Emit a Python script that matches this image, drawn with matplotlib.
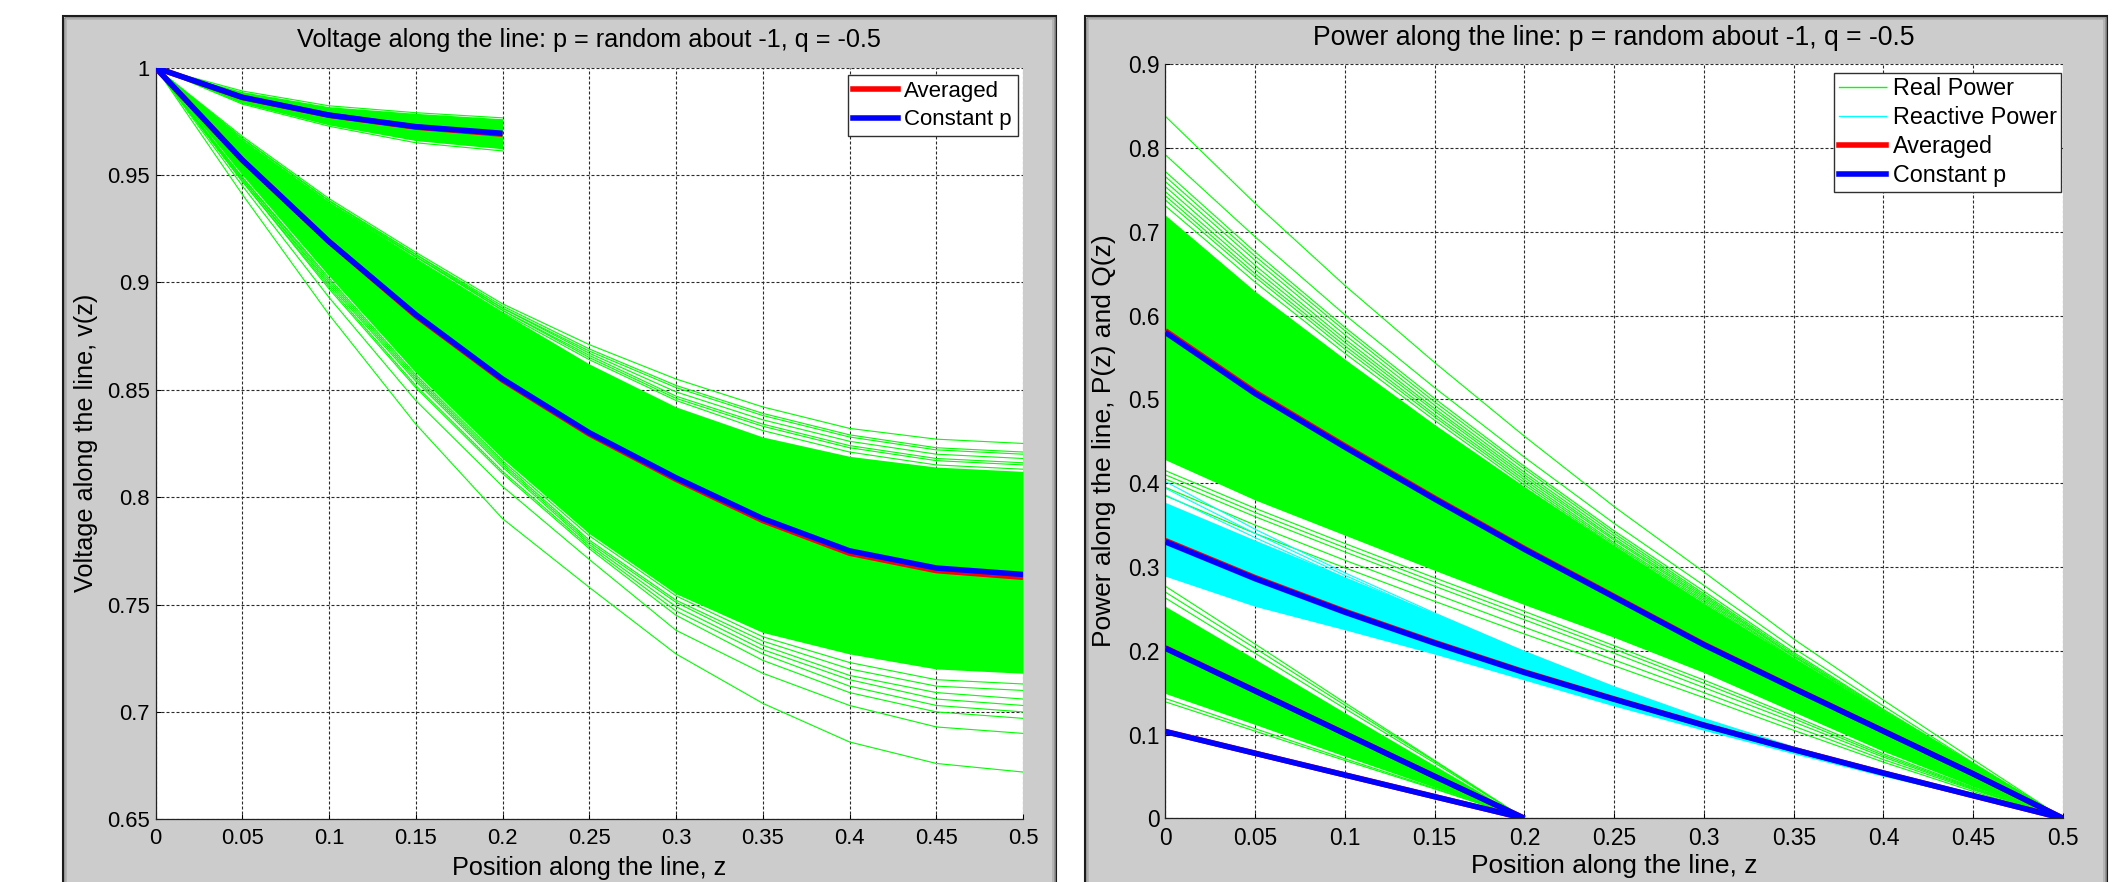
import matplotlib
matplotlib.use('Agg')
import matplotlib.pyplot as plt
from matplotlib.patches import Rectangle
from matplotlib.lines import Line2D

plt.rcParams['font.family'] = ['Liberation Sans', 'DejaVu Sans']

# positions along the line
z_long = [0.0, 0.05, 0.1, 0.15, 0.2, 0.25, 0.3, 0.35, 0.4, 0.45, 0.5]
z_short = [0.0, 0.05, 0.1, 0.15, 0.2]

# ---- voltage, long line (z = 0 .. 0.5)
v_const_long = [1.000, 0.957, 0.919, 0.885, 0.855, 0.830, 0.809, 0.790, 0.775, 0.767, 0.764]
v_avg_long = [1.000, 0.957, 0.919, 0.8845, 0.8545, 0.8294, 0.8083, 0.7891, 0.7739, 0.7658, 0.7627]
v_band_long_hi = [1.000, 0.966, 0.937, 0.911, 0.886, 0.862, 0.842, 0.828, 0.819, 0.814, 0.812]
v_band_long_lo = [1.000, 0.950, 0.903, 0.858, 0.818, 0.783, 0.755, 0.737, 0.727, 0.720, 0.718]
v_runs_long = [
    [1.000, 0.968, 0.939, 0.914, 0.890, 0.871, 0.855, 0.842, 0.832, 0.827, 0.825],
    [1.000, 0.967, 0.938, 0.913, 0.889, 0.869, 0.852, 0.839, 0.829, 0.823, 0.821],
    [1.000, 0.967, 0.938, 0.913, 0.888, 0.868, 0.851, 0.838, 0.828, 0.822, 0.820],
    [1.000, 0.967, 0.938, 0.912, 0.888, 0.867, 0.849, 0.836, 0.826, 0.820, 0.818],
    [1.000, 0.966, 0.937, 0.912, 0.887, 0.866, 0.847, 0.834, 0.824, 0.818, 0.816],
    [1.000, 0.966, 0.937, 0.912, 0.887, 0.865, 0.846, 0.833, 0.823, 0.817, 0.815],
    [1.000, 0.966, 0.937, 0.911, 0.886, 0.864, 0.845, 0.831, 0.821, 0.815, 0.813],
    [1.000, 0.941, 0.885, 0.834, 0.790, 0.758, 0.727, 0.704, 0.686, 0.676, 0.672],
    [1.000, 0.945, 0.893, 0.845, 0.805, 0.771, 0.738, 0.718, 0.703, 0.693, 0.690],
    [1.000, 0.947, 0.897, 0.851, 0.811, 0.776, 0.745, 0.724, 0.709, 0.700, 0.697],
    [1.000, 0.947, 0.898, 0.852, 0.812, 0.777, 0.747, 0.727, 0.712, 0.703, 0.700],
    [1.000, 0.948, 0.899, 0.854, 0.814, 0.778, 0.749, 0.729, 0.715, 0.706, 0.703],
    [1.000, 0.948, 0.900, 0.855, 0.815, 0.779, 0.751, 0.731, 0.717, 0.709, 0.706],
    [1.000, 0.949, 0.901, 0.856, 0.816, 0.780, 0.752, 0.733, 0.720, 0.712, 0.710],
    [1.000, 0.949, 0.902, 0.857, 0.817, 0.782, 0.754, 0.735, 0.723, 0.715, 0.713],
]

# ---- voltage, short line (z = 0 .. 0.2)
v_const_short = [1.000, 0.9862, 0.9779, 0.9725, 0.9694]
v_avg_short = [1.000, 0.9861, 0.9778, 0.9723, 0.9690]
v_band_short_hi = [1.000, 0.9888, 0.9818, 0.9787, 0.9762]
v_band_short_lo = [1.000, 0.9834, 0.9733, 0.9660, 0.9622]
v_runs_short = [
    [1.000, 0.9830, 0.9727, 0.9650, 0.9612],
    [1.000, 0.9891, 0.9822, 0.9790, 0.9766],
]

# ---- real power, long line
p_const_long = [0.580, 0.507, 0.443, 0.381, 0.321, 0.264, 0.207, 0.155, 0.104, 0.053, 0.0]
p_avg_long = [0.582, 0.5088, 0.4446, 0.3823, 0.3221, 0.2649, 0.2077, 0.1555, 0.1043, 0.0531, 0.0]
p_band_long_hi = [0.720, 0.629, 0.548, 0.470, 0.396, 0.325, 0.256, 0.191, 0.127, 0.064, 0.0]
p_band_long_lo = [0.428, 0.380, 0.338, 0.296, 0.255, 0.216, 0.174, 0.127, 0.080, 0.038, 0.0]
p_runs_long = [
    [0.838, 0.734, 0.636, 0.544, 0.456, 0.372, 0.294, 0.214, 0.141, 0.070, 0.0],
    [0.792, 0.694, 0.601, 0.514, 0.431, 0.352, 0.278, 0.203, 0.134, 0.066, 0.0],
    [0.772, 0.676, 0.586, 0.501, 0.420, 0.343, 0.271, 0.198, 0.130, 0.065, 0.0],
    [0.766, 0.671, 0.582, 0.497, 0.417, 0.340, 0.268, 0.196, 0.129, 0.065, 0.0],
    [0.760, 0.666, 0.577, 0.493, 0.413, 0.337, 0.266, 0.194, 0.128, 0.064, 0.0],
    [0.754, 0.660, 0.572, 0.489, 0.410, 0.334, 0.264, 0.193, 0.127, 0.064, 0.0],
    [0.748, 0.655, 0.568, 0.486, 0.407, 0.332, 0.262, 0.191, 0.126, 0.063, 0.0],
    [0.743, 0.650, 0.564, 0.482, 0.404, 0.329, 0.260, 0.190, 0.125, 0.063, 0.0],
    [0.738, 0.646, 0.560, 0.479, 0.401, 0.327, 0.258, 0.188, 0.124, 0.062, 0.0],
    [0.731, 0.640, 0.555, 0.475, 0.398, 0.325, 0.256, 0.187, 0.123, 0.062, 0.0],
    [0.415, 0.370, 0.328, 0.287, 0.247, 0.206, 0.165, 0.122, 0.077, 0.037, 0.0],
    [0.410, 0.365, 0.323, 0.282, 0.242, 0.202, 0.161, 0.119, 0.075, 0.036, 0.0],
    [0.405, 0.360, 0.318, 0.277, 0.237, 0.197, 0.156, 0.115, 0.073, 0.035, 0.0],
    [0.395, 0.350, 0.308, 0.268, 0.228, 0.189, 0.150, 0.110, 0.070, 0.034, 0.0],
    [0.385, 0.340, 0.299, 0.259, 0.220, 0.182, 0.144, 0.105, 0.067, 0.032, 0.0],
]

# ---- reactive power, long line
q_const_long = [0.330, 0.286, 0.246, 0.209, 0.174, 0.142, 0.111, 0.082, 0.054, 0.027, 0.0]
q_avg_long = [0.3315, 0.2873, 0.2471, 0.2099, 0.1747, 0.1425, 0.1113, 0.0822, 0.0541, 0.0270, 0.0]
q_band_long_hi = [0.377, 0.332, 0.288, 0.245, 0.200, 0.157, 0.118, 0.084, 0.055, 0.027, 0.0]
q_band_long_lo = [0.289, 0.253, 0.225, 0.196, 0.165, 0.134, 0.105, 0.077, 0.050, 0.025, 0.0]
q_runs_long = [
    [0.402, 0.345, 0.293, 0.245, 0.199, 0.157, 0.119, 0.085, 0.055, 0.027, 0.0],
    [0.394, 0.340, 0.290, 0.243, 0.198, 0.156, 0.118, 0.085, 0.055, 0.027, 0.0],
    [0.386, 0.335, 0.287, 0.241, 0.197, 0.155, 0.118, 0.084, 0.055, 0.027, 0.0],
]

# ---- real and reactive power, short line
p_const_short = [0.203, 0.152, 0.101, 0.050, 0.0]
p_avg_short = [0.2035, 0.1524, 0.1013, 0.0502, 0.0]
p_band_short_hi = [0.253, 0.190, 0.126, 0.063, 0.0]
p_band_short_lo = [0.149, 0.112, 0.074, 0.037, 0.0]
p_runs_short = [
    [0.277, 0.208, 0.138, 0.069, 0.0],
    [0.270, 0.203, 0.135, 0.068, 0.0],
    [0.263, 0.197, 0.131, 0.066, 0.0],
    [0.143, 0.107, 0.071, 0.036, 0.0],
    [0.139, 0.104, 0.069, 0.035, 0.0],
]
q_const_short = [0.1035, 0.0776, 0.0517, 0.0258, 0.0]
q_avg_short = [0.1037, 0.0777, 0.0518, 0.0259, 0.0]

x_ticks = [0, 0.05, 0.1, 0.15, 0.2, 0.25, 0.3, 0.35, 0.4, 0.45, 0.5]
x_labels = ['0', '0.05', '0.1', '0.15', '0.2', '0.25', '0.3', '0.35', '0.4', '0.45', '0.5']
v_ticks = [0.65, 0.7, 0.75, 0.8, 0.85, 0.9, 0.95, 1.0]
v_labels = ['0.65', '0.7', '0.75', '0.8', '0.85', '0.9', '0.95', '1']
p_ticks = [0, 0.1, 0.2, 0.3, 0.4, 0.5, 0.6, 0.7, 0.8, 0.9]
p_labels = ['0', '0.1', '0.2', '0.3', '0.4', '0.5', '0.6', '0.7', '0.8', '0.9']

GREEN = '#00ff00'
CYAN = '#00ffff'
RED = '#ff0000'
BLUE = '#0000ff'

W, H = 2116, 882
fig = plt.figure(figsize=(W / 100, H / 100), dpi=100)
fig.patch.set_facecolor('white')

# grey figure panels behind the two plots (pixel coordinates)
bg = fig.add_axes([0, 0, 1, 1], zorder=0)
bg.set_xlim(0, W)
bg.set_ylim(H, 0)
bg.axis('off')
for x0, x1 in [(63, 1056), (1085, 2107)]:
    bg.add_patch(Rectangle((x0, 16), x1 - x0, H, facecolor='#cccccc',
                           edgecolor='#1c1c1c', linewidth=1.5))
    bg.add_patch(Rectangle((x0 + 1.5, 17.5), x1 - x0 - 3, H, facecolor='none',
                           edgecolor='#8c8c8c', linewidth=1.2))
    bg.add_patch(Rectangle((x0 + 3, 19), x1 - x0 - 6, H, facecolor='none',
                           edgecolor='#b0b0b0', linewidth=1.2))


def px_axes(left, right, top, bottom):
    return fig.add_axes([left / W, 1 - bottom / H, (right - left) / W, (bottom - top) / H],
                        zorder=1)


def style(ax, yticks, ylabels, fs):
    ax.set_facecolor('white')
    ax.set_xticks(x_ticks)
    ax.set_xticklabels(x_labels)
    ax.set_yticks(yticks)
    ax.set_yticklabels(ylabels)
    ax.tick_params(direction='in', length=3.6, width=0.75, labelsize=fs, colors='black')
    ax.tick_params(axis='x', pad=6.5)
    ax.tick_params(axis='y', pad=4)
    for s in ['top', 'right']:
        ax.spines[s].set_visible(False)
    for s in ['left', 'bottom']:
        ax.spines[s].set_linewidth(0.9)
        ax.spines[s].set_color('#222222')
    ax.grid(True, color='#2a2a2a', linestyle=(0, (2.7, 1.8)), linewidth=0.8)
    ax.set_axisbelow(True)


# ---------------- voltage plot
axL = px_axes(155.5, 1023, 67.6, 819.3)
axL.set_xlim(0, 0.5)
axL.set_ylim(0.65, 1.0)
style(axL, v_ticks, v_labels, 15.8)

axL.fill_between(z_long, v_band_long_lo, v_band_long_hi, color=GREEN, lw=0, zorder=2)
axL.fill_between(z_short, v_band_short_lo, v_band_short_hi, color=GREEN, lw=0, zorder=2)
for run in v_runs_long:
    axL.plot(z_long, run, color=GREEN, lw=0.8, zorder=2)
for run in v_runs_short:
    axL.plot(z_short, run, color=GREEN, lw=0.8, zorder=2)
axL.plot(z_long, v_avg_long, color=RED, lw=4, zorder=3, solid_capstyle='butt')
axL.plot(z_short, v_avg_short, color=RED, lw=4, zorder=3, solid_capstyle='butt')
axL.plot(z_long, v_const_long, color=BLUE, lw=4, zorder=4, solid_capstyle='butt')
axL.plot(z_short, v_const_short, color=BLUE, lw=4, zorder=4, solid_capstyle='butt')

legL = axL.legend(handles=[Line2D([], [], color=RED, lw=4), Line2D([], [], color=BLUE, lw=4)],
                  labels=['Averaged', 'Constant p'], loc='upper right',
                  bbox_to_anchor=(1017.6 / W, 1 - 75 / H), bbox_transform=fig.transFigure,
                  borderaxespad=0, fontsize=16, fancybox=False, framealpha=1,
                  edgecolor='#303030', handlelength=2.0, handletextpad=0.3,
                  borderpad=0.25, labelspacing=0.35)
legL.get_frame().set_linewidth(1.0)
legL.set_zorder(10)

fig.text(589.3 / W, 1 - 46.5 / H, 'Voltage along the line: p = random about -1, q = -0.5',
         ha='center', va='baseline', fontsize=18.2)
fig.text(589.3 / W, 1 - 875 / H, 'Position along the line, z',
         ha='center', va='baseline', fontsize=18.2)
fig.text(86.5 / W, 1 - 443 / H, 'Voltage along the line, v(z)',
         ha='center', va='center', rotation=90, fontsize=18.2)

# ---------------- power plot
axR = px_axes(1165.3, 2063, 64.3, 818.3)
axR.set_xlim(0, 0.5)
axR.set_ylim(0, 0.9)
style(axR, p_ticks, p_labels, 16.4)

axR.fill_between(z_long, p_band_long_lo, p_band_long_hi, color=GREEN, lw=0, zorder=2)
axR.fill_between(z_short, p_band_short_lo, p_band_short_hi, color=GREEN, lw=0, zorder=2)
for run in p_runs_long:
    axR.plot(z_long, run, color=GREEN, lw=0.8, zorder=2)
for run in p_runs_short:
    axR.plot(z_short, run, color=GREEN, lw=0.8, zorder=2)
axR.fill_between(z_long, q_band_long_lo, q_band_long_hi, color=CYAN, lw=0, zorder=2.5)
for run in q_runs_long:
    axR.plot(z_long, run, color=CYAN, lw=0.8, zorder=2.5)

for z, avg in [(z_long, p_avg_long), (z_short, p_avg_short),
               (z_long, q_avg_long), (z_short, q_avg_short)]:
    axR.plot(z, avg, color=RED, lw=4, zorder=3, solid_capstyle='butt')
for z, const in [(z_long, p_const_long), (z_short, p_const_short),
                 (z_long, q_const_long), (z_short, q_const_short)]:
    axR.plot(z, const, color=BLUE, lw=4, zorder=4, solid_capstyle='butt')

legR = axR.legend(handles=[Line2D([], [], color=GREEN, lw=1),
                           Line2D([], [], color=CYAN, lw=1),
                           Line2D([], [], color=RED, lw=4),
                           Line2D([], [], color=BLUE, lw=4)],
                  labels=['Real Power', 'Reactive Power', 'Averaged', 'Constant p'],
                  loc='upper right', bbox_to_anchor=(2061.4 / W, 1 - 72.7 / H),
                  bbox_transform=fig.transFigure, borderaxespad=0, fontsize=16.8,
                  fancybox=False, framealpha=1, edgecolor='#303030',
                  handlelength=2.0, handletextpad=0.3, borderpad=0.2, labelspacing=0.25)
legR.get_frame().set_linewidth(1.0)
legR.set_zorder(10)

fig.text(1614.2 / W, 1 - 45 / H, 'Power along the line: p = random about -1, q = -0.5',
         ha='center', va='baseline', fontsize=19.2)
fig.text(1614.2 / W, 1 - 873 / H, 'Position along the line, z',
         ha='center', va='baseline', fontsize=19)
fig.text(1104 / W, 1 - 441 / H, 'Power along the line, P(z) and Q(z)',
         ha='center', va='center', rotation=90, fontsize=19)

fig.savefig('out.png', dpi=100)
